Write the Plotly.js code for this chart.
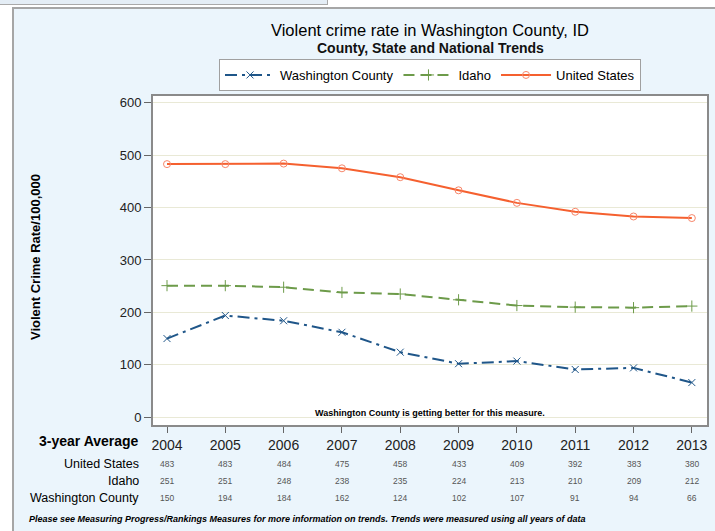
<!DOCTYPE html>
<html>
<head>
<meta charset="utf-8">
<script src="https://cdn.plot.ly/plotly-3.0.1.min.js"></script>
<style>
  html, body { margin: 0; padding: 0; background: #ffffff; }
  #wrap { position: relative; width: 715px; height: 531px; overflow: hidden; }
  #topbox { position: absolute; left: 0; top: 0; width: 327px; height: 4px; background: #E4EDF5; border-right: 1px solid #A9A9A9; border-bottom: 1px solid #A9A9A9; }
  #panel { position: absolute; left: 12px; top: 7px; width: 705px; height: 526px; background: #EBF5FC; border-left: 2px solid #A6A6A6; border-top: 2px solid #A6A6A6; }
  #chart { position: absolute; left: 0; top: 0; width: 715px; height: 531px; }
</style>
</head>
<body>
<div id="wrap">
  <div id="topbox"></div>
  <div id="panel"></div>
  <div id="chart"></div>
</div>
<script>
// ---- Data ----
const years = [2004, 2005, 2006, 2007, 2008, 2009, 2010, 2011, 2012, 2013];
const unitedStates = [483, 483, 484, 475, 458, 433, 409, 392, 383, 380];
const idaho = [251, 251, 248, 238, 235, 224, 213, 210, 209, 212];
const washingtonCounty = [150, 194, 184, 162, 124, 102, 107, 91, 94, 66];
const rowLabels = ["United States", "Idaho", "Washington County"];
const tableRows = [unitedStates, idaho, washingtonCounty];
const yTicks = [0, 100, 200, 300, 400, 500, 600];

// ---- Layout geometry (pixels) ----
const W = 715, H = 531;
const mL = 153, mR = 8, mT = 96, mB = 106;
const plotW = W - mL - mR, plotH = H - mT - mB;
const px2x = px => (px - mL) / plotW;
const py2y = py => (H - mB - py) / plotH;

const font = "Liberation Sans, Arial, sans-serif";

const traces = [
  {
    x: years, y: washingtonCounty, name: "Washington County", mode: "lines+markers",
    line: { color: "#1F5689", width: 2, dash: "12px,5px,3px,5px" },
    marker: { symbol: "x-thin-open", size: 7, color: "#1F5689", line: { color: "#1F5689", width: 1 } }
  },
  {
    x: years, y: idaho, name: "Idaho", mode: "lines+markers",
    line: { color: "#6D9B4A", width: 2, dash: "11px,6px" },
    marker: { symbol: "cross-thin-open", size: 8, color: "#6D9B4A", line: { color: "#6D9B4A", width: 1 } }
  },
  {
    x: years, y: unitedStates, name: "United States", mode: "lines+markers",
    line: { color: "#F5602F", width: 2 },
    marker: { symbol: "circle-open", size: 7, color: "#F7866A", line: { color: "#F7866A", width: 1 } }
  }
];

const annotations = [];
// Title + subtitle
annotations.push({ xref: "paper", yref: "paper", x: px2x(430), y: py2y(30), text: "Violent crime rate in Washington County, ID",
  showarrow: false, xanchor: "center", yanchor: "middle", font: { family: font, size: 16.5, color: "#000" } });
annotations.push({ xref: "paper", yref: "paper", x: px2x(430), y: py2y(48), text: "<b>County, State and National Trends</b>",
  showarrow: false, xanchor: "center", yanchor: "middle", font: { family: font, size: 14, color: "#111" } });
// Y axis title
annotations.push({ xref: "paper", yref: "paper", x: px2x(35), y: py2y(257), text: "<b>Violent Crime Rate/100,000</b>",
  showarrow: false, textangle: -90, xanchor: "center", yanchor: "middle", font: { family: font, size: 13, color: "#000" } });
// In-plot note
annotations.push({ xref: "paper", yref: "paper", x: px2x(430), y: py2y(413), text: "<b>Washington County is getting better for this measure.</b>",
  showarrow: false, xanchor: "center", yanchor: "middle", font: { family: font, size: 9, color: "#000" } });
// Table header
annotations.push({ xref: "paper", yref: "paper", x: px2x(141), y: py2y(441), text: "<b>3-year Average</b>",
  showarrow: false, xanchor: "right", yanchor: "middle", font: { family: font, size: 14, color: "#000" } });
const rowY = [464, 481, 498];
rowLabels.forEach((lab, i) => {
  annotations.push({ xref: "paper", yref: "paper", x: px2x(141), y: py2y(rowY[i]), text: lab,
    showarrow: false, xanchor: "right", yanchor: "middle", font: { family: font, size: 12.5, color: "#000" } });
  tableRows[i].forEach((v, j) => {
    annotations.push({ xref: "x", yref: "paper", x: years[j], y: py2y(rowY[i]), text: String(v),
      showarrow: false, xanchor: "center", yanchor: "middle", font: { family: font, size: 8.5, color: "#555" } });
  });
});
// Footnote
annotations.push({ xref: "paper", yref: "paper", x: px2x(27), y: py2y(519),
  text: "<b><i>Please see Measuring Progress/Rankings Measures for more information on trends. Trends were measured using all years of data</i></b>",
  showarrow: false, xanchor: "left", yanchor: "middle", font: { family: font, size: 9, color: "#000" } });

const layout = {
  width: W, height: H,
  margin: { l: mL, r: mR, t: mT, b: mB, pad: 0 },
  paper_bgcolor: "rgba(0,0,0,0)",
  plot_bgcolor: "#ffffff",
  showlegend: true,
  legend: {
    orientation: "h", x: px2x(430), xanchor: "center", y: py2y(59), yanchor: "top",
    bgcolor: "#ffffff", bordercolor: "#A0A0A0", borderwidth: 1,
    font: { family: font, size: 13, color: "#000" }, tracegroupgap: 0, itemwidth: 50
  },
  xaxis: {
    range: [2003.76, 2013.26], tickvals: years, ticktext: years.map(String),
    ticks: "outside", ticklen: 6, tickcolor: "#666", tickwidth: 1,
    showline: true, linecolor: "#8A8A8A", linewidth: 2, mirror: true,
    showgrid: false, zeroline: false,
    tickfont: { family: font, size: 14, color: "#222" }
  },
  yaxis: {
    range: [-15, 613], tickvals: yTicks,
    ticks: "outside", ticklen: 7, tickcolor: "#666", tickwidth: 1,
    showline: true, linecolor: "#8A8A8A", linewidth: 2, mirror: true,
    showgrid: true, gridcolor: "#E9E9D6", gridwidth: 1, zeroline: false,
    tickfont: { family: font, size: 13, color: "#222" }
  },
  annotations: annotations
};

Plotly.newPlot("chart", traces, layout, { displayModeBar: false, staticPlot: true });
</script>
</body>
</html>
